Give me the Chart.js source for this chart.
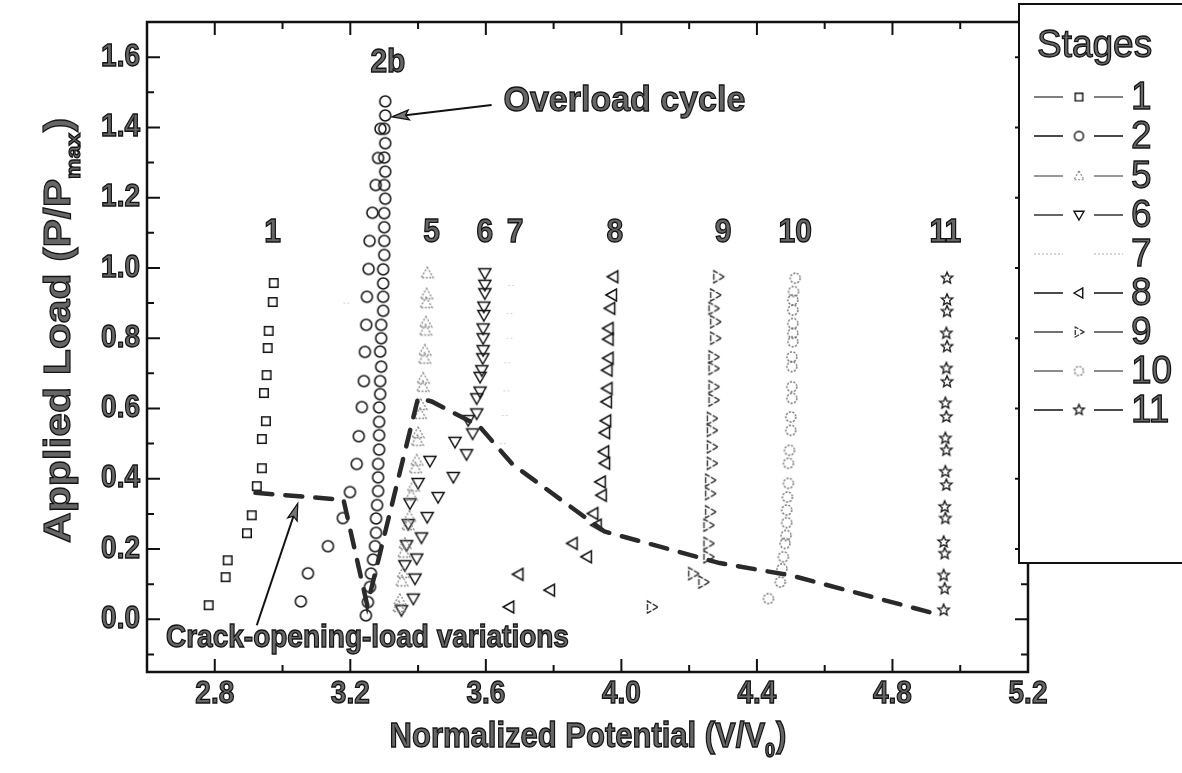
<!DOCTYPE html>
<html>
<head>
<meta charset="utf-8">
<script src="https://cdn.jsdelivr.net/npm/chart.js@4.4.1/dist/chart.umd.min.js"></script>
<style>
  html, body { margin: 0; padding: 0; background: #fff; }
  canvas { display: block; }
</style>
</head>
<body>
<canvas id="chart" width="1182" height="773"></canvas>
<script>
// Stage data: [V/V0, P/Pmax]
const stage1 = [[2.974,0.957],[2.971,0.903],[2.959,0.821],[2.956,0.772],[2.953,0.695],[2.945,0.644],[2.951,0.564],[2.939,0.513],[2.939,0.430],[2.924,0.379],[2.909,0.296],[2.895,0.245],[2.838,0.168],[2.832,0.120],[2.782,0.040]];
const stage2 = [[3.303,1.474],[3.303,1.434],[3.300,1.396],[3.303,1.355],[3.300,1.314],[3.303,1.274],[3.300,1.236],[3.303,1.197],[3.300,1.156],[3.300,1.116],[3.300,1.077],[3.300,1.037],[3.297,0.996],[3.297,0.956],[3.297,0.918],[3.297,0.878],[3.291,0.838],[3.291,0.800],[3.288,0.762],[3.291,0.719],[3.288,0.678],[3.288,0.641],[3.285,0.603],[3.285,0.562],[3.285,0.524],[3.285,0.483],[3.282,0.442],[3.282,0.404],[3.282,0.365],[3.279,0.325],[3.276,0.287],[3.276,0.246],[3.273,0.208],[3.267,0.170],[3.261,0.130],[3.258,0.092],[3.252,0.049],[3.246,0.011],
  [3.289,1.396],[3.282,1.313],[3.275,1.236],[3.265,1.157],[3.257,1.077],[3.254,0.997],[3.249,0.918],[3.247,0.838],[3.243,0.761],[3.240,0.678],[3.234,0.604],[3.225,0.521],[3.219,0.442],[3.199,0.362],[3.178,0.288],[3.134,0.208],[3.075,0.131],[3.054,0.051]];
const stage5 = [[3.427,0.985],[3.425,0.925],[3.424,0.900],[3.423,0.845],[3.422,0.822],[3.420,0.765],[3.419,0.742],[3.415,0.685],[3.414,0.662],[3.408,0.610],[3.406,0.585],[3.400,0.530],[3.398,0.508],[3.396,0.452],[3.392,0.430],[3.386,0.378],[3.380,0.352],[3.374,0.292],[3.370,0.268],[3.361,0.215],[3.358,0.190],[3.356,0.132],[3.352,0.108],[3.346,0.055],[3.343,0.035]];
const stage6 = [[3.597,0.985],[3.597,0.952],[3.597,0.928],[3.594,0.890],[3.594,0.866],[3.592,0.828],[3.592,0.800],[3.592,0.766],[3.591,0.743],[3.588,0.709],[3.583,0.690],[3.583,0.648],[3.573,0.629],[3.573,0.586],[3.548,0.567],[3.561,0.529],[3.509,0.505],[3.543,0.470],[3.435,0.451],[3.504,0.405],[3.400,0.388],[3.459,0.348],[3.376,0.330],[3.427,0.291],[3.371,0.271],[3.410,0.233],[3.366,0.211],[3.396,0.173],[3.361,0.154],[3.391,0.116],[3.386,0.059],[3.351,0.026]];
const stage7 = [[3.676,0.950],[3.671,0.870],[3.671,0.800],[3.665,0.730],[3.662,0.650],[3.657,0.580],[3.651,0.500],[3.190,0.900]];
const stage8 = [[3.976,0.975],[3.972,0.923],[3.967,0.885],[3.962,0.828],[3.962,0.797],[3.962,0.743],[3.959,0.709],[3.959,0.657],[3.957,0.619],[3.955,0.565],[3.952,0.531],[3.949,0.477],[3.952,0.444],[3.939,0.391],[3.942,0.353],[3.917,0.301],[3.927,0.268],[3.856,0.216],[3.898,0.178],[3.696,0.128],[3.789,0.083],[3.669,0.035]];
const stage9 = [[4.286,0.975],[4.277,0.923],[4.272,0.885],[4.277,0.847],[4.277,0.800],[4.272,0.747],[4.272,0.714],[4.272,0.662],[4.272,0.624],[4.267,0.572],[4.267,0.538],[4.267,0.491],[4.267,0.444],[4.262,0.396],[4.262,0.358],[4.262,0.306],[4.257,0.268],[4.257,0.216],[4.257,0.178],[4.212,0.130],[4.242,0.106],[4.090,0.035]];
const stage10 = [[4.513,0.971],[4.508,0.933],[4.506,0.909],[4.506,0.880],[4.506,0.842],[4.506,0.814],[4.506,0.790],[4.503,0.747],[4.503,0.719],[4.503,0.662],[4.503,0.629],[4.500,0.576],[4.500,0.538],[4.496,0.481],[4.493,0.444],[4.493,0.387],[4.490,0.348],[4.488,0.311],[4.488,0.275],[4.486,0.239],[4.483,0.216],[4.478,0.178],[4.474,0.144],[4.469,0.106],[4.434,0.059]];
const stage11 = [[4.961,0.971],[4.961,0.909],[4.961,0.876],[4.959,0.814],[4.961,0.776],[4.959,0.714],[4.961,0.676],[4.956,0.615],[4.959,0.576],[4.956,0.515],[4.959,0.481],[4.956,0.420],[4.959,0.382],[4.954,0.320],[4.956,0.287],[4.951,0.220],[4.954,0.187],[4.951,0.125],[4.954,0.087],[4.951,0.026]];

// crack-opening-load variation (dashed path)
const crackLine = [[2.92,0.36],[3.18,0.34],[3.25,0.04],[3.40,0.63],[3.44,0.62],[3.58,0.55],[3.68,0.44],[3.95,0.25],[4.29,0.16],[4.50,0.125],[4.93,0.015]];

const stageNames = ['1', '2', '5', '6', '7', '8', '9', '10', '11'];

// axis ticks
const xTickLabels = [2.8, 3.2, 3.6, 4.0, 4.4, 4.8, 5.2];
const xMinor = [3.0, 3.4, 3.8, 4.2, 4.6, 5.0];
const yTickLabels = [0.0, 0.2, 0.4, 0.6, 0.8, 1.0, 1.2, 1.4, 1.6];
const yMinor = [-0.1, 0.1, 0.3, 0.5, 0.7, 0.9, 1.1, 1.3, 1.5];

// text annotations placed in data coordinates
const stageLabels = [['1',2.971,1.10],['5',3.440,1.10],['6',3.597,1.10],['7',3.686,1.10],['8',3.981,1.10],['9',4.300,1.10],['10',4.513,1.10],['11',4.956,1.10],['2b',3.311,1.585]];

const FONT = '"Liberation Sans", Arial, Helvetica, sans-serif';

// build marker images
function makeMarker(kind, color, dash, size, lw) {
    const s = size + 6;
    const c = document.createElement('canvas');
    c.width = s; c.height = s;
    const g = c.getContext('2d');
    g.strokeStyle = color;
    g.lineWidth = lw || 1.4;
    g.setLineDash(dash || []);
    const m = s / 2, r = size / 2;
    g.beginPath();
    if (kind === 'square') {
        g.rect(m - r * 0.85, m - r * 0.85, r * 1.7, r * 1.7);
    } else if (kind === 'circle') {
        g.arc(m, m, r, 0, Math.PI * 2);
    } else if (kind === 'up') {
        g.moveTo(m, m - r); g.lineTo(m + r, m + r * 0.75); g.lineTo(m - r, m + r * 0.75); g.closePath();
    } else if (kind === 'down') {
        g.moveTo(m, m + r); g.lineTo(m + r, m - r * 0.75); g.lineTo(m - r, m - r * 0.75); g.closePath();
    } else if (kind === 'left') {
        g.moveTo(m - r, m); g.lineTo(m + r * 0.75, m - r); g.lineTo(m + r * 0.75, m + r); g.closePath();
    } else if (kind === 'right') {
        g.moveTo(m + r, m); g.lineTo(m - r * 0.75, m - r); g.lineTo(m - r * 0.75, m + r); g.closePath();
    } else if (kind === 'star') {
        for (let i = 0; i < 10; i++) {
            const rr = i % 2 === 0 ? r : r * 0.45;
            const a = -Math.PI / 2 + i * Math.PI / 5;
            const px = m + rr * Math.cos(a), py = m + rr * Math.sin(a);
            if (i === 0) g.moveTo(px, py); else g.lineTo(px, py);
        }
        g.closePath();
    } else if (kind === 'dash') {
        g.moveTo(m - r, m); g.lineTo(m + r, m);
    }
    g.stroke();
    return c;
}

const stageStyles = [
    { data: stage1,  marker: makeMarker('square', '#111', null, 10, 1.5),    legend: makeMarker('square', '#111', null, 9, 1.4),  line: '#555', lineDash: [] },
    { data: stage2,  marker: makeMarker('circle', '#111', null, 11, 1.5),    legend: makeMarker('circle', '#111', null, 9, 1.4),  line: '#111', lineDash: [] },
    { data: stage5,  marker: makeMarker('up', '#888', [2, 1.5], 12, 1.3),    legend: makeMarker('up', '#888', [2, 1.5], 10, 1.2), line: '#777', lineDash: [] },
    { data: stage6,  marker: makeMarker('down', '#111', null, 12, 1.5),      legend: makeMarker('down', '#111', null, 10, 1.4),   line: '#333', lineDash: [] },
    { data: stage7,  marker: makeMarker('dash', '#d4d4d4', [2, 2], 7, 1),    legend: null, line: '#c8c8c8', lineDash: [2, 2] },
    { data: stage8,  marker: makeMarker('left', '#111', null, 12, 1.5),      legend: makeMarker('left', '#111', null, 10, 1.4),   line: '#111', lineDash: [] },
    { data: stage9,  marker: makeMarker('right', '#333', [6, 1.5], 12, 1.4), legend: makeMarker('right', '#333', [5, 1.5], 10, 1.3), line: '#444', lineDash: [] },
    { data: stage10, marker: makeMarker('circle', '#666', [2, 1.5], 10, 1.3), legend: makeMarker('circle', '#666', [2, 1.5], 9, 1.2), line: '#666', lineDash: [] },
    { data: stage11, marker: makeMarker('star', '#111', null, 12, 1.3),      legend: makeMarker('star', '#111', null, 11, 1.3),   line: '#111', lineDash: [] }
];

const toXY = arr => arr.map(p => ({ x: p[0], y: p[1] }));

const datasets = [{
    label: 'crack',
    data: toXY(crackLine),
    showLine: true,
    borderColor: '#2a2a2a',
    borderWidth: 4.5,
    borderDash: [17, 13],
    borderCapStyle: 'round',
    pointRadius: 0,
    fill: false
}];
stageStyles.forEach((st, i) => {
    datasets.push({
        label: stageNames[i],
        data: toXY(st.data),
        showLine: false,
        pointStyle: st.marker,
        pointRadius: 5,
        borderColor: st.line,
        backgroundColor: 'transparent'
    });
});

// grey-filled, dark-outlined text like the scanned figure
function drawText(ctx, text, x, y, size, opt) {
    opt = opt || {};
    ctx.save();
    ctx.translate(x, y);
    if (opt.rotate) ctx.rotate(opt.rotate);
    ctx.scale(opt.sx || 1, opt.sy || 1);
    ctx.font = (opt.weight || 'bold') + ' ' + size + 'px ' + FONT;
    ctx.textAlign = opt.align || 'center';
    ctx.textBaseline = opt.baseline || 'middle';
    ctx.fillStyle = opt.fill || '#666';
    ctx.fillText(text, 0, 0);
    ctx.strokeStyle = '#141414';
    ctx.lineWidth = opt.lw || 1.2;
    ctx.strokeText(text, 0, 0);
    ctx.restore();
}

function drawArrow(ctx, x1, y1, x2, y2, headLen, headW) {
    const a = Math.atan2(y2 - y1, x2 - x1);
    ctx.save();
    ctx.strokeStyle = '#111';
    ctx.lineWidth = 2;
    ctx.beginPath();
    ctx.moveTo(x1, y1);
    ctx.lineTo(x2 - Math.cos(a) * headLen * 0.8, y2 - Math.sin(a) * headLen * 0.8);
    ctx.stroke();
    ctx.translate(x2, y2);
    ctx.rotate(a);
    ctx.beginPath();
    ctx.moveTo(0, 0);
    ctx.lineTo(-headLen, -headW);
    ctx.lineTo(-headLen * 0.8, 0);
    ctx.lineTo(-headLen, headW);
    ctx.closePath();
    ctx.fillStyle = '#777';
    ctx.fill();
    ctx.lineWidth = 1.2;
    ctx.stroke();
    ctx.restore();
}

const decorPlugin = {
    id: 'decor',
    afterDraw(chart) {
        const ctx = chart.ctx;
        const xs = chart.scales.x, ys = chart.scales.y;
        const area = chart.chartArea;
        const X = v => xs.getPixelForValue(v);
        const Y = v => ys.getPixelForValue(v);

        // frame
        ctx.save();
        ctx.strokeStyle = '#111';
        ctx.lineWidth = 2.5;
        ctx.strokeRect(area.left, area.top, area.right - area.left, area.bottom - area.top);

        // inward ticks on all four sides
        ctx.lineWidth = 2;
        ctx.beginPath();
        const tick = (vals, len) => {
            vals.forEach(v => {
                const px = X(v);
                ctx.moveTo(px, area.bottom); ctx.lineTo(px, area.bottom - len);
                ctx.moveTo(px, area.top); ctx.lineTo(px, area.top + len);
            });
        };
        const tickY = (vals, len) => {
            vals.forEach(v => {
                const py = Y(v);
                ctx.moveTo(area.left, py); ctx.lineTo(area.left + len, py);
                ctx.moveTo(area.right, py); ctx.lineTo(area.right - len, py);
            });
        };
        tick(xTickLabels.filter(v => v < 5.19), 13);
        tick(xMinor, 7);
        tickY(yTickLabels, 13);
        tickY(yMinor, 7);
        ctx.stroke();
        ctx.restore();

        // tick labels
        xTickLabels.forEach(v => drawText(ctx, v.toFixed(1), X(v), 694, 28, { sy: 1.12 }));
        yTickLabels.forEach(v => drawText(ctx, v.toFixed(1), 140, Y(v), 28, { align: 'right', sy: 1.12 }));

        // axis titles
        const tSize = 31;
        ctx.save();
        ctx.font = 'bold ' + tSize + 'px ' + FONT;
        const xMain = 'Normalized Potential (V/V';
        const wMain = ctx.measureText(xMain).width;
        ctx.font = 'bold 18px ' + FONT;
        const wSub = ctx.measureText('0').width;
        ctx.font = 'bold ' + tSize + 'px ' + FONT;
        const wEnd = ctx.measureText(')').width;
        ctx.restore();
        let x0 = (area.left + area.right) / 2 - (wMain + wSub + wEnd) / 2;
        drawText(ctx, xMain, x0, 747, tSize, { align: 'left', baseline: 'alphabetic', sy: 1.12 });
        drawText(ctx, '0', x0 + wMain, 757, 18, { align: 'left', baseline: 'alphabetic', sy: 1.12 });
        drawText(ctx, ')', x0 + wMain + wSub + 1, 747, tSize, { align: 'left', baseline: 'alphabetic', sy: 1.12 });

        const ySize = 37, yStretch = 1.15;
        ctx.save();
        ctx.font = 'bold ' + ySize + 'px ' + FONT;
        const yMain = 'Applied Load (P/P';
        const wyMain = ctx.measureText(yMain).width * yStretch;
        ctx.font = 'bold 20px ' + FONT;
        const wyMax = ctx.measureText('max').width * yStretch;
        ctx.restore();
        const yStart = 543;
        const rot = -Math.PI / 2;
        drawText(ctx, yMain, 70, yStart, ySize, { rotate: rot, sx: yStretch, align: 'left', baseline: 'alphabetic' });
        drawText(ctx, 'max', 80, yStart - wyMain, 20, { rotate: rot, sx: yStretch, align: 'left', baseline: 'alphabetic' });
        drawText(ctx, ')', 70, yStart - wyMain - wyMax - 1, ySize, { rotate: rot, sx: yStretch, align: 'left', baseline: 'alphabetic' });

        // stage numbers above the columns
        stageLabels.forEach(l => drawText(ctx, l[0], X(l[1]), Y(l[2]), 30, { sy: 1.12 }));

        // overload annotation
        drawText(ctx, 'Overload cycle', X(3.652), Y(1.475), 34, { align: 'left', sy: 1.05 });
        drawArrow(ctx, X(3.617), Y(1.464), X(3.323), Y(1.430), 17, 5);

        // crack-opening annotation
        drawText(ctx, 'Crack-opening-load variations', X(2.656), Y(-0.054), 28, { align: 'left', sy: 1.12 });
        drawArrow(ctx, X(2.924), Y(-0.017), X(3.045), Y(0.330), 17, 5);

        // legend box
        ctx.save();
        ctx.fillStyle = '#fff';
        ctx.fillRect(1019, 4, 170, 559);
        ctx.strokeStyle = '#111';
        ctx.lineWidth = 2;
        ctx.strokeRect(1019, 4, 170, 559);
        ctx.restore();
        drawText(ctx, 'Stages', 1037, 46, 37, { align: 'left', weight: 'normal', sy: 1.05 });
        const legendY = [97, 136, 176, 215, 254, 293, 332, 371, 410];
        stageStyles.forEach((st, i) => {
            const ly = legendY[i];
            ctx.save();
            ctx.strokeStyle = st.line;
            ctx.lineWidth = 1.6;
            ctx.setLineDash(st.lineDash);
            ctx.beginPath();
            ctx.moveTo(1034, ly); ctx.lineTo(1063, ly);
            ctx.moveTo(1094, ly); ctx.lineTo(1123, ly);
            ctx.stroke();
            ctx.restore();
            if (st.legend) {
                ctx.drawImage(st.legend, 1079 - st.legend.width / 2, ly - st.legend.height / 2);
            }
            drawText(ctx, stageNames[i], 1131, ly + 1, 37, { align: 'left', weight: 'normal', sy: 1.05 });
        });
    }
};

const ctx = document.getElementById('chart').getContext('2d');
new Chart(ctx, {
    type: 'scatter',
    data: { datasets: datasets },
    options: {
        responsive: false,
        animation: false,
        events: [],
        layout: { padding: { top: 22, right: 154, left: 0, bottom: 0 } },
        plugins: {
            legend: { display: false },
            tooltip: { enabled: false }
        },
        scales: {
            x: {
                type: 'linear',
                min: 2.6,
                max: 5.2,
                grid: { display: false },
                border: { display: false },
                ticks: { display: false },
                afterBuildTicks: s => { s.ticks = xTickLabels.map(v => ({ value: v })); },
                afterFit: s => { s.height = 101; }
            },
            y: {
                type: 'linear',
                min: -0.15,
                max: 1.7,
                grid: { display: false },
                border: { display: false },
                ticks: { display: false },
                afterBuildTicks: s => { s.ticks = yTickLabels.map(v => ({ value: v })); },
                afterFit: s => { s.width = 147; }
            }
        }
    },
    plugins: [decorPlugin]
});
</script>
</body>
</html>
